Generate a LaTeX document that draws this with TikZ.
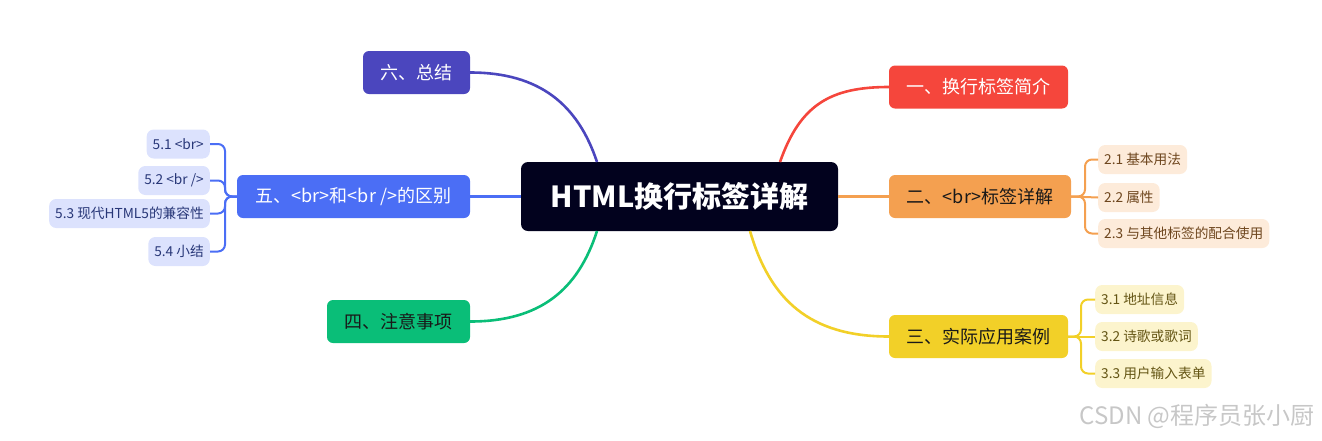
\documentclass[tikz,border=0pt]{standalone}
\usepackage{fontspec}
\setmainfont{Noto Sans CJK SC}
\begin{document}
\begin{tikzpicture}[x=1pt,y=-1pt,
  box/.style={rounded corners=6pt, minimum height=43pt, inner sep=0pt, font=\fontsize{18}{20}\selectfont},
  sub/.style={rounded corners=7pt, minimum height=29pt, inner xsep=6pt, inner ysep=0pt, font=\fontsize{13.7}{15}\selectfont},
  ln/.style={line width=2.6pt},
  sl/.style={line width=2pt, rounded corners=7pt}]
\definecolor{cen}{RGB}{2,2,30}
\definecolor{cred}{RGB}{245,70,60}
\definecolor{corg}{RGB}{244,160,80}
\definecolor{cyel}{RGB}{242,208,40}
\definecolor{cgrn}{RGB}{10,190,120}
\definecolor{cblu}{RGB}{75,110,245}
\definecolor{cpur}{RGB}{75,70,190}
\definecolor{lorg}{RGB}{253,235,218}
\definecolor{torg}{RGB}{110,70,30}
\definecolor{lyel}{RGB}{252,244,205}
\definecolor{tyel}{RGB}{100,85,20}
\definecolor{lblu}{RGB}{220,226,253}
\definecolor{tblu}{RGB}{40,55,120}
\definecolor{dtxt}{RGB}{25,25,25}
\useasboundingbox (0,0) rectangle (1322,440);

% main nodes
\node[rounded corners=7pt, fill=cen, minimum width=317pt, minimum height=69pt, text=white, font=\fontsize{29}{31}\selectfont\bfseries] (c) at (679.5,196.5) {HTML换行标签详解};
\node[box, fill=cred, minimum width=179pt, text=white] (n1) at (978.5,87) {一、换行标签简介};
\node[box, fill=corg, minimum width=182pt, text=dtxt] (n2) at (980,196.5) {二、<br>标签详解};
\node[box, fill=cyel, minimum width=179pt, text=dtxt] (n3) at (978.5,336.5) {三、实际应用案例};
\node[box, fill=cgrn, minimum width=143pt, text=dtxt] (n4) at (398.5,321.5) {四、注意事项};
\node[box, fill=cblu, minimum width=233pt, text=white] (n5) at (353.5,196.5) {五、<br>和<br />的区别};
\node[box, fill=cpur, minimum width=107pt, text=white] (n6) at (416.5,72.5) {六、总结};

% connectors from centre
\coordinate (c1) at (780,162);
\coordinate (c3) at (750,231);
\coordinate (c4) at (597,231);
\coordinate (c6) at (597,162);
\draw[ln, cred] (c1) .. controls (800,105) and (830,87) .. (n1.west);
\draw[ln, corg] (c.east) -- (n2.west);
\draw[ln, cyel] (c3) .. controls (770,300) and (810,336.5) .. (n3.west);
\draw[ln, cgrn] (c4) .. controls (578,290) and (540,321.5) .. (n4.east);
\draw[ln, cblu] (c.west) -- (n5.east);
\draw[ln, cpur] (c6) .. controls (578,105) and (540,72.5) .. (n6.east);

% orange children
\node[sub, fill=lorg, text=torg, anchor=west] (s21) at (1098,159.5) {2.1 基本用法};
\node[sub, fill=lorg, text=torg, anchor=west] (s22) at (1098,197.5) {2.2 属性};
\node[sub, fill=lorg, text=torg, anchor=west] (s23) at (1098,233.5) {2.3 与其他标签的配合使用};
\coordinate (b2) at (1085,196.5);
\foreach \s in {s21,s23}
  \draw[sl, corg] (n2.east) -- (b2) -- (b2 |- \s.west) -- (\s.west);
\draw[sl, corg] (n2.east) -- (s22.west);

% yellow children
\node[sub, fill=lyel, text=tyel, anchor=west] (s31) at (1095,299.5) {3.1 地址信息};
\node[sub, fill=lyel, text=tyel, anchor=west] (s32) at (1095,336.5) {3.2 诗歌或歌词};
\node[sub, fill=lyel, text=tyel, anchor=west] (s33) at (1095,373.5) {3.3 用户输入表单};
\coordinate (b3) at (1081,336.5);
\foreach \s in {s31,s33}
  \draw[sl, cyel] (n3.east) -- (b3) -- (b3 |- \s.west) -- (\s.west);
\draw[sl, cyel] (n3.east) -- (s32.west);

% blue children
\node[sub, fill=lblu, text=tblu, anchor=east] (s51) at (210,144) {5.1 <br>};
\node[sub, fill=lblu, text=tblu, anchor=east] (s52) at (210,180.5) {5.2 <br />};
\node[sub, fill=lblu, text=tblu, anchor=east] (s53) at (210,213.5) {5.3 现代HTML5的兼容性};
\node[sub, fill=lblu, text=tblu, anchor=east] (s54) at (210,251.5) {5.4 小结};
\coordinate (b5) at (225,196.5);
\foreach \s in {s51,s52,s53,s54}
  \draw[sl, cblu] (n5.west) -- (b5) -- (b5 |- \s.east) -- (\s.east);

% watermark
\node[anchor=east, text=black!22, font=\fontsize{24}{26}\selectfont] (wm) at (1318,416) {CSDN @程序员张小厨};
\end{tikzpicture}
\end{document}
